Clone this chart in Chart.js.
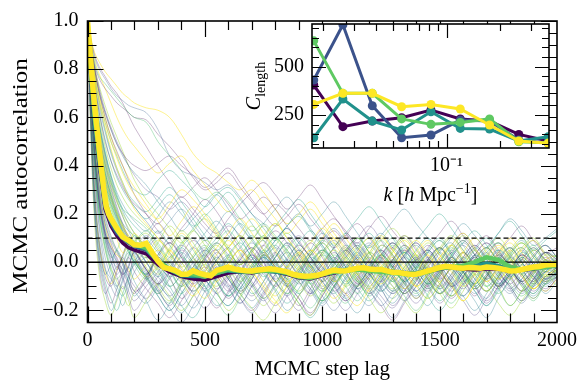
<!DOCTYPE html>
<html>
<head>
<meta charset="utf-8">
<script src="https://cdn.jsdelivr.net/npm/chart.js@4.4.1/dist/chart.umd.min.js"></script>
<style>
  body { margin: 0; background: #fff; }
  #wrap { position: relative; width: 583px; height: 382px; }
  #main { position: absolute; left: 0; top: 0; }
  #inset { position: absolute; left: 230px; top: 0; }
</style>
</head>
<body>
<div id="wrap">
  <canvas id="main" width="583" height="382"></canvas>
  <canvas id="inset" width="340" height="215"></canvas>
</div>
<script>
// ---- main panel: MCMC autocorrelation vs step lag ----
const thinLags = [0,15,30,50,75,100,125,150,175,200,250,300,350,400,450,500,550,600,650,700,750,800,850,900,950,1000,1050,1100,1150,1200,1250,1300,1350,1400,1450,1500,1550,1600,1650,1700,1750,1800,1850,1900,1950,2000];

// individual chains (thin lines)
const chains = [
  [1,.6,.3,.08,-.06,-.1,-.04,.02,-.05,-.12,-.08,.02,-.06,-.15,-.09,.01,.05,-.04,-.12,-.07,.03,-.02,-.1,-.18,-.11,-.03,.04,-.02,-.09,-.05,.02,-.06,-.13,-.08,.01,.06,-.01,-.07,-.14,-.06,.03,-.02,-.09,-.04,.02,-.03],
  [1,.72,.48,.28,.12,.04,-.03,.02,.08,.03,-.05,-.12,-.04,.06,.1,.02,-.08,-.14,-.06,.04,.09,.01,-.07,-.03,.05,.12,.06,-.04,-.1,-.02,.07,.03,-.06,-.12,-.05,.04,.08,0,-.09,-.15,-.07,.02,.06,-.01,-.08,-.03],
  [1,.82,.66,.5,.36,.26,.2,.14,.08,.05,-.02,-.1,-.16,-.08,.01,-.04,-.12,-.2,-.14,-.05,.03,-.02,-.09,-.17,-.22,-.13,-.04,.02,-.05,-.11,-.06,.04,.1,.03,-.06,-.13,-.09,-.02,.05,-.03,-.1,-.18,-.12,-.04,.01,-.05],
  [1,.9,.81,.72,.63,.56,.5,.45,.4,.36,.3,.27,.22,.25,.2,.14,.1,.15,.11,.04,-.03,.02,.08,.03,-.05,-.11,-.06,.02,.07,.01,-.07,-.13,-.08,0,.05,-.02,-.1,-.06,.03,.08,.02,-.05,-.12,-.07,.01,-.02],
  [1,.68,.42,.2,.06,-.04,-.1,-.14,-.08,0,.06,-.02,-.1,-.18,-.23,-.15,-.06,.01,-.05,-.13,-.08,.02,.07,-.01,-.09,-.16,-.1,-.02,.04,-.04,-.12,-.07,0,-.06,-.14,-.2,-.13,-.04,.03,-.02,-.09,-.05,.04,0,-.07,-.04],
  [1,.8,.6,.42,.3,.2,.1,.04,.07,.12,.05,-.03,.04,.12,.06,-.02,-.08,-.01,.05,-.03,-.11,-.17,-.1,-.02,.05,0,-.08,-.04,.04,.1,.03,-.05,-.11,-.05,.03,-.03,-.09,-.16,-.09,-.01,.06,.01,-.06,-.11,-.05,0],
  [1,.92,.85,.8,.76,.72,.69,.67,.65,.64,.62,.55,.44,.38,.36,.33,.3,.32,.27,.2,.16,.1,.14,.08,.02,-.04,.01,.06,0,-.07,-.12,-.06,.02,.07,.01,-.06,-.1,-.04,.03,-.02,-.08,-.13,-.07,0,.04,-.01],
  [1,.9,.83,.77,.74,.71,.68,.65,.62,.6,.58,.5,.44,.38,.3,.26,.29,.25,.18,.13,.16,.11,.05,0,.04,.09,.05,-.02,-.08,-.03,.05,.1,.04,-.03,-.09,-.04,.02,-.04,-.1,-.05,.02,.06,0,-.06,-.02,.03],
  [1,.7,.44,.24,.12,.06,.02,-.04,-.09,-.13,-.06,.03,.08,.02,-.06,-.12,-.19,-.12,-.04,.03,-.03,-.1,-.05,.02,.08,.02,-.06,-.13,-.07,.01,.05,-.01,-.08,-.15,-.09,-.02,.04,.09,.03,-.04,-.1,-.04,.03,-.01,-.07,-.02],
  [1,.55,.22,0,-.12,-.2,-.15,-.07,-.02,-.08,-.16,-.24,-.17,-.09,-.03,-.1,-.18,-.13,-.05,.02,-.04,-.12,-.2,-.14,-.06,0,-.07,-.15,-.21,-.13,-.05,.01,-.06,-.12,-.18,-.1,-.03,-.09,-.16,-.23,-.15,-.07,-.01,-.06,-.13,-.08],
  [1,.84,.7,.55,.42,.32,.25,.2,.16,.12,.05,-.02,.06,.13,.08,0,-.06,.02,.09,.15,.09,.01,-.06,-.12,-.05,.03,.08,.02,-.05,-.1,-.03,.05,.11,.06,-.02,-.08,-.14,-.07,.01,.06,0,-.06,-.12,-.05,.03,0],
  [1,.74,.5,.3,.16,.08,.01,-.05,-.02,.04,-.03,-.11,-.18,-.1,-.02,.03,-.05,-.12,-.06,.01,.07,0,-.08,-.15,-.22,-.14,-.06,0,-.05,-.13,-.08,.01,.05,-.03,-.1,-.17,-.11,-.04,.02,-.03,-.1,-.06,.01,-.05,-.12,-.06],
  [1,.85,.72,.58,.46,.36,.28,.22,.18,.15,.1,.04,-.03,-.1,-.04,.04,.1,.16,.1,.02,-.04,.02,.08,.02,-.06,-.12,-.07,0,.06,.12,.05,-.02,-.08,-.03,.05,.1,.04,-.03,-.09,-.02,.05,.01,-.05,.02,.07,.02],
  [1,.88,.78,.68,.58,.5,.43,.37,.32,.28,.22,.18,.24,.3,.26,.2,.13,.07,.12,.18,.12,.05,-.02,.03,.08,.14,.08,.01,-.05,0,.07,.03,-.04,-.1,-.05,.02,.07,.12,.06,-.01,-.07,-.02,.05,.09,.03,-.02],
  [1,.66,.38,.16,.02,-.06,-.1,-.05,.02,.07,0,-.08,-.14,-.08,0,.05,-.02,-.1,-.17,-.1,-.03,.03,-.03,-.09,-.04,.04,.09,.03,-.04,-.11,-.18,-.12,-.04,.02,-.04,-.11,-.06,.02,.07,.01,-.06,-.12,-.07,-.01,.04,-.02],
  [1,.8,.62,.46,.33,.24,.17,.11,.06,.01,-.07,-.13,-.06,.02,-.03,-.1,-.16,-.22,-.15,-.07,0,-.05,-.13,-.08,0,.04,-.03,-.1,-.16,-.09,-.02,-.07,-.14,-.2,-.13,-.05,.01,-.04,-.11,-.06,.02,-.03,-.1,-.16,-.09,-.05],
  [1,.89,.8,.7,.6,.52,.46,.4,.34,.28,.2,.13,.08,.14,.2,.26,.21,.13,.06,.01,.07,.13,.08,0,-.06,-.01,.06,.11,.05,-.03,-.08,-.02,.05,0,-.07,-.13,-.07,.01,.06,.11,.05,-.02,-.08,-.03,.04,.01],
  [1,.58,.27,.06,-.05,-.01,.05,0,-.08,-.14,-.07,.02,-.04,-.12,-.19,-.12,-.03,.03,-.02,-.09,-.15,-.09,-.01,.05,-.01,-.08,-.13,-.06,.02,-.03,-.11,-.17,-.1,-.02,.04,-.02,-.09,-.14,-.07,0,.05,-.01,-.08,-.13,-.06,-.02],
  [1,.83,.67,.52,.39,.29,.21,.15,.11,.09,.12,.06,-.01,-.07,-.02,.05,.11,.05,-.03,-.09,-.15,-.09,-.02,.04,.09,.03,-.04,-.1,-.05,.03,.09,.14,.08,.01,-.05,0,.07,.02,-.05,-.12,-.06,.02,.06,0,-.06,-.03],
  [1,.7,.46,.26,.12,.03,-.02,.03,.09,.05,-.03,-.09,-.03,.05,0,-.07,-.13,-.07,.01,.06,0,-.08,-.14,-.2,-.13,-.05,.02,-.04,-.11,-.06,.01,.06,0,-.07,-.12,-.06,.02,-.03,-.1,-.17,-.1,-.03,.03,-.02,-.08,-.04],
  [1,.81,.64,.49,.37,.27,.19,.12,.05,0,-.05,.03,.1,.04,-.04,-.1,-.04,.03,.08,.02,-.05,-.11,-.17,-.11,-.03,.03,-.02,-.09,-.04,.04,0,-.07,-.13,-.07,0,.06,0,-.06,-.12,-.18,-.11,-.04,.02,-.03,-.09,-.05],
  [1,.87,.76,.66,.56,.47,.39,.33,.27,.22,.16,.1,.05,0,-.06,-.01,.06,.12,.18,.12,.05,-.02,-.08,-.03,.04,.1,.16,.1,.03,-.04,-.09,-.03,.04,.09,.03,-.04,-.1,-.16,-.09,-.02,.04,.1,.04,-.03,-.08,-.03],
  [1,.64,.36,.14,-.02,-.1,-.14,-.08,-.02,.04,-.04,-.12,-.19,-.25,-.18,-.09,-.02,-.07,-.15,-.21,-.14,-.06,0,-.06,-.13,-.08,0,.05,-.02,-.1,-.16,-.23,-.16,-.08,-.02,-.07,-.14,-.09,-.02,.04,-.03,-.11,-.17,-.1,-.04,-.07],
  [1,.82,.66,.52,.41,.33,.27,.22,.2,.18,.14,.08,.02,.08,.14,.2,.14,.06,-.01,.05,.11,.06,-.01,-.07,-.02,.05,0,-.07,-.13,-.07,.01,.07,.02,-.05,-.11,-.05,.03,.09,.03,-.04,-.1,-.05,.02,.07,.01,0],
  [1,.9,.82,.76,.72,.69,.66,.64,.62,.6,.59,.53,.48,.42,.35,.3,.33,.37,.31,.25,.2,.24,.2,.14,.09,.14,.18,.12,.06,0,-.05,.01,.07,.02,-.05,-.1,-.05,.02,.07,.02,-.04,-.09,-.03,.03,.07,.02],
  [1,.71,.47,.27,.13,.05,0,-.03,-.08,-.12,-.17,-.1,-.02,.04,-.01,-.07,-.13,-.18,-.11,-.03,.02,-.03,-.1,-.06,.02,-.02,-.09,-.15,-.09,-.02,.03,-.02,-.09,-.14,-.08,0,.05,0,-.07,-.12,-.06,.02,-.03,-.09,-.04,-.01],
  [1,.8,.61,.45,.32,.23,.16,.11,.08,.06,.02,.08,.15,.09,.02,-.05,-.1,-.04,.03,.09,.15,.1,.03,-.03,.03,.08,.02,-.05,-.1,-.04,.03,-.02,-.09,-.15,-.08,-.01,.05,.11,.05,-.02,-.07,-.01,.06,.1,.04,.02],
  [1,.52,.2,-.02,-.13,-.08,-.02,-.07,-.14,-.2,-.13,-.06,0,-.06,-.12,-.07,.01,.06,0,-.08,-.15,-.21,-.14,-.06,0,-.06,-.12,-.07,0,-.05,-.11,-.18,-.12,-.05,.01,-.04,-.1,-.16,-.22,-.15,-.08,-.01,-.06,-.12,-.07,-.05],
  [1,.88,.77,.67,.58,.5,.44,.38,.33,.3,.28,.34,.38,.34,.29,.23,.28,.31,.26,.2,.14,.09,.15,.19,.13,.06,0,.05,.1,.04,-.03,-.08,-.02,.05,.1,.04,-.02,-.08,-.03,.04,.08,.02,-.05,-.1,-.04,.01],
  [1,.73,.49,.29,.15,.07,.03,.01,-.03,-.07,-.01,.05,-.01,-.08,-.14,-.08,0,.06,.11,.05,-.02,-.08,-.02,.04,-.02,-.09,-.15,-.09,-.01,.04,-.01,-.07,-.02,.04,.09,.03,-.04,-.1,-.05,.02,.07,.02,-.05,-.11,-.06,-.02],
  [1,.84,.69,.55,.43,.33,.25,.19,.13,.08,0,-.06,-.12,-.18,-.11,-.04,.02,-.03,-.1,-.16,-.1,-.02,.04,-.01,-.08,-.14,-.2,-.13,-.06,0,-.05,-.12,-.07,.01,.05,-.01,-.08,-.14,-.08,-.01,.04,-.02,-.09,-.15,-.09,-.06],
  [1,.69,.43,.22,.09,.02,.05,.1,.05,-.01,-.07,-.02,.05,.11,.05,-.02,-.08,-.14,-.08,-.01,.05,.1,.04,-.03,-.09,-.04,.03,-.02,-.08,-.13,-.07,.01,.07,.01,-.06,-.11,-.05,.02,-.03,-.1,-.05,.03,.08,.02,-.04,0],
  [1,.83,.68,.53,.41,.31,.23,.16,.1,.05,-.03,-.09,-.04,.03,.09,.04,-.03,-.09,-.15,-.2,-.13,-.05,.01,.07,.02,-.05,-.1,-.16,-.1,-.03,.03,.08,.02,-.05,-.1,-.04,.02,-.04,-.11,-.06,.01,.06,0,-.06,-.11,-.07],
  [1,.89,.79,.7,.62,.55,.49,.44,.4,.37,.32,.25,.19,.13,.18,.23,.28,.22,.15,.09,.04,.09,.15,.2,.14,.07,.01,-.04,.01,.07,.12,.06,0,-.06,-.01,.05,.1,.05,-.02,-.07,-.02,.04,.09,.03,-.02,.02],
  [1,.67,.4,.19,.05,-.03,-.08,-.13,-.18,-.12,-.05,.02,-.03,-.1,-.05,.02,.07,.01,-.06,-.12,-.18,-.12,-.05,.01,-.04,-.11,-.17,-.1,-.03,.02,-.03,-.1,-.16,-.21,-.14,-.06,0,-.05,-.11,-.06,.01,-.04,-.1,-.15,-.09,-.06],
  [1,.81,.63,.47,.35,.26,.19,.14,.1,.06,.1,.16,.1,.03,-.03,.02,.08,.03,-.04,-.1,-.04,.04,.1,.05,-.02,-.08,-.03,.04,.1,.15,.09,.02,-.04,.01,.07,.01,-.06,-.11,-.05,.02,.08,.03,-.03,-.08,-.02,.01],
  [1,.57,.25,.03,-.08,-.15,-.2,-.13,-.06,0,-.06,-.14,-.2,-.13,-.06,-.01,-.07,-.14,-.09,-.02,.03,-.03,-.1,-.17,-.23,-.16,-.08,-.02,-.07,-.14,-.08,-.01,.04,-.02,-.09,-.16,-.1,-.03,.02,-.04,-.11,-.18,-.12,-.05,0,-.04],
  [1,.91,.84,.78,.72,.66,.6,.55,.51,.48,.42,.37,.41,.44,.38,.32,.26,.21,.26,.3,.24,.18,.12,.17,.22,.16,.1,.04,-.01,.04,.1,.05,-.02,-.07,-.02,.05,.1,.04,-.03,-.08,-.03,.04,.08,.02,-.04,0],
  [1,.72,.47,.27,.14,.06,0,-.05,-.01,.05,.11,.05,-.02,-.08,-.02,.05,0,-.07,-.13,-.07,0,.06,.01,-.06,-.12,-.18,-.11,-.03,.03,.08,.02,-.05,-.11,-.05,.02,-.03,-.1,-.06,.01,.06,0,-.07,-.13,-.07,-.01,-.03],
  [1,.79,.6,.44,.31,.22,.15,.09,.04,0,-.06,-.12,-.17,-.1,-.03,.03,.08,.02,-.05,-.01,.05,0,-.07,-.13,-.19,-.12,-.04,.02,.07,.01,-.06,-.12,-.06,.01,-.04,-.11,-.17,-.1,-.03,.03,-.02,-.09,-.14,-.08,-.02,-.04],
  [1,.86,.74,.62,.5,.42,.36,.31,.27,.24,.2,.16,.22,.27,.22,.16,.12,.18,.24,.29,.33,.28,.22,.27,.32,.26,.19,.13,.08,.14,.19,.13,.07,.01,.06,.12,.17,.11,.05,-.01,.04,.1,.15,.09,.04,.06],
  [1,.84,.7,.57,.45,.36,.29,.24,.2,.17,.13,.19,.25,.2,.14,.09,.15,.21,.16,.1,.16,.22,.27,.21,.15,.2,.25,.19,.12,.06,.11,.17,.22,.16,.1,.05,.1,.16,.11,.06,.12,.18,.13,.07,.1,.14],
  [1,.86,.73,.6,.48,.39,.32,.27,.23,.2,.15,.1,.04,-.02,.03,.09,.05,-.02,-.08,-.03,.04,.1,.05,-.02,-.07,-.12,-.06,.01,.06,0,-.06,-.11,-.05,.02,.08,.03,-.03,-.09,-.04,.03,.08,.02,-.04,-.09,-.03,.01],
  [1,.7,.45,.25,.1,.01,-.06,-.11,-.06,.01,-.06,-.13,-.07,0,.06,.01,-.06,-.11,-.17,-.1,-.02,.04,-.02,-.08,-.13,-.07,-.01,.05,-.01,-.08,-.14,-.19,-.12,-.05,.01,-.05,-.12,-.06,.01,.06,0,-.06,-.12,-.07,-.02,-.05],
  [1,.88,.77,.66,.55,.46,.39,.33,.28,.25,.21,.26,.31,.25,.18,.11,.05,.1,.16,.1,.03,-.03,.02,.08,.13,.07,0,-.06,-.11,-.05,.02,.08,.03,-.03,-.09,-.04,.03,.08,.13,.07,0,-.06,-.01,.05,0,-.03],
  [1,.6,.29,.07,-.04,-.09,-.03,.03,.08,.02,-.06,-.01,.05,-.02,-.09,-.15,-.08,-.01,.05,-.01,-.08,-.14,-.07,0,.05,-.01,-.07,-.13,-.18,-.11,-.04,.02,-.04,-.1,-.05,.02,.07,.01,-.06,-.12,-.06,.01,-.05,-.11,-.06,-.03],
  [1,.82,.65,.5,.37,.28,.2,.13,.07,.02,-.05,.02,.08,.02,-.05,-.11,-.06,.02,-.03,-.1,-.16,-.1,-.03,.03,-.03,-.1,-.05,.03,.08,.02,-.05,-.1,-.16,-.1,-.02,.04,-.01,-.07,-.13,-.07,0,.06,0,-.07,-.03,-.01],
  [1,.74,.51,.32,.18,.1,.05,.01,.06,.11,.06,-.01,-.07,-.13,-.06,.02,.08,.13,.07,0,-.06,-.01,.05,.1,.04,-.03,-.08,-.02,.05,.1,.04,-.03,-.08,-.13,-.07,0,.06,.01,-.05,-.1,-.04,.03,.08,.03,-.03,0],
  [1,.9,.8,.71,.62,.55,.49,.45,.42,.4,.38,.41,.44,.4,.36,.31,.35,.39,.33,.26,.2,.15,.19,.24,.18,.12,.06,.11,.16,.1,.04,-.02,.03,.08,.02,-.04,-.09,-.03,.03,.08,.03,-.03,-.08,-.02,.04,.01],
  [1,.85,.71,.57,.45,.35,.27,.21,.16,.12,.06,0,-.06,-.01,.06,.12,.17,.11,.04,-.02,.03,.09,.14,.08,.02,-.04,.01,.07,.02,-.05,-.1,-.15,-.09,-.02,.04,.09,.03,-.04,-.1,-.05,.02,-.03,-.09,-.14,-.08,-.04],
  [1,.5,.17,-.05,-.16,-.22,-.16,-.1,-.16,-.23,-.16,-.09,-.14,-.2,-.14,-.07,-.01,-.06,-.13,-.19,-.24,-.17,-.1,-.04,-.09,-.16,-.1,-.03,-.08,-.15,-.21,-.15,-.08,-.02,-.07,-.13,-.19,-.12,-.05,-.1,-.17,-.22,-.16,-.09,-.05,-.1],
  [1,.71,.46,.25,.11,.03,-.01,-.06,-.12,-.16,-.1,-.04,.02,.07,.02,-.05,-.11,-.06,.01,-.05,-.12,-.18,-.12,-.05,.01,-.04,-.1,-.16,-.1,-.03,.03,.08,.02,-.05,-.11,-.05,.01,-.04,-.1,-.16,-.1,-.03,.03,-.01,-.07,-.04],
  [1,.83,.66,.51,.38,.28,.21,.16,.13,.11,.07,.13,.07,0,-.06,-.12,-.07,0,.06,.11,.05,-.01,-.07,-.13,-.07,0,.06,.12,.06,-.01,-.06,0,.06,0,-.07,-.13,-.08,-.01,.05,.1,.04,-.02,-.08,-.03,.04,.02],
  [1,.89,.79,.69,.6,.52,.45,.4,.35,.31,.24,.17,.11,.17,.23,.18,.11,.05,-.01,.04,.1,.16,.1,.04,-.02,.04,.1,.05,-.01,-.07,-.02,.04,.09,.03,-.03,-.08,-.02,.04,.1,.04,-.02,-.07,-.01,.05,.01,0],
  [1,.69,.44,.23,.09,0,-.05,-.01,.04,0,-.07,-.14,-.2,-.13,-.05,.01,-.04,-.1,-.04,.03,-.02,-.08,-.14,-.08,-.01,.05,0,-.07,-.13,-.18,-.11,-.04,.02,-.03,-.09,-.03,.04,-.01,-.07,-.12,-.06,0,.05,-.01,-.06,-.03],
  [1,.8,.62,.46,.34,.25,.18,.12,.09,.07,.03,-.04,-.1,-.05,.02,.07,.01,-.06,-.12,-.06,.01,.07,.12,.06,-.01,-.06,-.12,-.17,-.1,-.03,.03,-.02,-.08,-.03,.04,.09,.03,-.04,-.09,-.03,.03,-.02,-.08,-.13,-.07,-.03],
  [1,.92,.86,.81,.77,.73,.7,.66,.61,.56,.48,.4,.33,.27,.31,.35,.3,.24,.18,.22,.27,.22,.15,.09,.03,.08,.13,.07,.01,-.05,0,.06,.11,.05,-.01,-.07,-.02,.04,-.01,-.07,-.11,-.05,.01,.06,.01,-.02],
  [1,.62,.31,.09,-.03,-.07,-.12,-.18,-.11,-.04,.02,-.03,-.1,-.05,.02,.06,0,-.07,-.13,-.19,-.12,-.05,.01,-.04,-.11,-.17,-.1,-.03,.03,-.02,-.08,-.13,-.07,-.01,.05,-.01,-.08,-.14,-.2,-.13,-.06,0,-.05,-.11,-.06,-.02],
  [1,.84,.7,.56,.44,.34,.26,.19,.14,.1,.02,-.05,.01,.07,.13,.07,0,-.06,-.01,.05,.1,.04,-.03,-.08,-.14,-.08,-.01,.05,.1,.04,-.02,-.08,-.03,.03,-.03,-.09,-.14,-.08,-.01,.05,.1,.04,-.03,-.08,-.02,.01],
  [1,.73,.49,.3,.16,.09,.04,-.01,-.06,-.1,-.15,-.09,-.02,-.07,-.13,-.19,-.12,-.05,.01,.06,0,-.07,-.02,.05,-.01,-.08,-.14,-.2,-.13,-.06,0,-.05,-.11,-.17,-.1,-.03,.02,.07,.01,-.05,-.1,-.05,.02,-.03,-.09,-.06],
  [1,.86,.74,.62,.51,.42,.35,.3,.26,.23,.18,.23,.28,.22,.15,.19,.24,.29,.23,.16,.1,.15,.21,.26,.2,.13,.07,.12,.18,.23,.17,.1,.04,.09,.15,.2,.14,.07,.01,.06,.12,.17,.11,.05,.09,.13],
  [1,.81,.63,.48,.36,.27,.2,.15,.11,.08,.04,.09,.03,-.04,-.1,-.04,.03,.09,.03,-.04,-.1,-.16,-.21,-.14,-.07,-.01,.05,0,-.07,-.12,-.06,.01,-.04,-.1,-.15,-.09,-.02,.04,-.02,-.08,-.02,.05,-.01,-.07,-.12,-.07],
  [1,.87,.75,.64,.54,.45,.38,.32,.27,.23,.17,.12,.17,.22,.16,.09,.03,-.03,.02,.08,.02,-.05,-.1,-.04,.03,.09,.14,.08,.01,-.05,-.1,-.04,.03,.08,.02,-.04,.02,.08,.03,-.04,-.09,-.03,.04,.09,.03,0],
  [1,.68,.41,.2,.07,-.02,-.07,-.03,.03,.08,.13,.07,0,-.06,-.12,-.06,.01,.06,.11,.05,-.02,-.08,-.13,-.07,0,.05,-.01,-.08,-.03,.04,.09,.03,-.03,-.09,-.15,-.09,-.02,.04,-.02,-.08,-.13,-.07,.01,.06,.01,-.02],
  [1,.56,.24,.02,-.1,-.17,-.11,-.04,.02,-.04,-.11,-.17,-.23,-.16,-.08,-.02,-.08,-.15,-.09,-.02,.04,-.02,-.09,-.15,-.21,-.14,-.07,-.01,-.06,-.12,-.18,-.24,-.17,-.1,-.04,-.09,-.15,-.09,-.03,.02,-.04,-.1,-.16,-.1,-.04,-.06],
  [1,.83,.67,.52,.4,.3,.22,.15,.09,.04,-.03,-.09,-.15,-.21,-.14,-.06,0,-.05,-.11,-.05,.02,.07,.01,-.05,-.11,-.16,-.1,-.03,.02,.07,.01,-.06,-.12,-.06,.01,.06,0,-.06,-.12,-.18,-.12,-.05,.01,-.04,-.1,-.06],
  [1,.9,.81,.73,.65,.58,.52,.46,.4,.34,.26,.2,.14,.08,.13,.18,.12,.05,-.01,.05,.11,.16,.1,.03,-.02,-.08,-.03,.04,.1,.04,-.03,-.08,-.13,-.07,0,.06,.11,.05,-.01,-.07,-.02,.05,.1,.04,-.02,.01],
  [1,.75,.52,.33,.19,.11,.05,0,-.04,-.01,.05,.1,.04,-.03,-.09,-.03,.04,-.01,-.08,-.14,-.08,0,.06,.11,.05,-.02,-.08,-.14,-.08,-.01,.05,0,-.06,-.12,-.06,.01,.07,.12,.06,-.01,-.06,-.11,-.05,.02,.07,.02],
  [1,.8,.61,.45,.33,.24,.18,.13,.09,.06,0,-.06,0,.06,0,-.07,-.13,-.18,-.11,-.04,.02,-.03,-.09,-.04,.03,.08,.02,-.05,-.11,-.16,-.1,-.02,.04,-.01,-.08,-.13,-.07,0,.06,.01,-.05,-.1,-.16,-.09,-.03,-.05],
  [1,.93,.87,.83,.79,.76,.73,.7,.68,.66,.64,.63,.6,.53,.45,.4,.37,.33,.3,.34,.29,.22,.16,.2,.25,.19,.12,.06,.01,.06,.11,.05,-.01,-.06,0,.06,.02,-.04,-.09,-.03,.03,.08,.02,-.04,.01,.03]
];

// group means (thick lines), purple / blue / teal / green on thinLags
const meanPurple = [1,.76,.57,.4,.22,.15,.11,.08,.06,.05,.035,-.01,-.04,-.06,-.07,-.075,-.06,-.045,-.04,-.045,-.035,-.04,-.05,-.065,-.07,-.055,-.045,-.035,-.03,-.03,-.035,-.045,-.045,-.05,-.04,-.028,-.022,-.028,-.032,-.028,-.028,-.038,-.033,-.028,-.018,-.013];
const meanBlue = [1,.77,.58,.41,.23,.16,.12,.1,.08,.065,.05,.002,-.032,-.048,-.055,-.06,-.047,-.033,-.038,-.042,-.033,-.037,-.047,-.058,-.062,-.052,-.043,-.033,-.028,-.028,-.033,-.038,-.043,-.047,-.038,-.024,-.019,-.023,-.028,-.023,-.019,-.028,-.028,-.023,-.018,-.013];
const meanTeal = [1,.78,.59,.42,.24,.17,.13,.1,.085,.07,.055,.005,-.03,-.055,-.058,-.058,-.045,-.035,-.04,-.04,-.035,-.04,-.045,-.058,-.06,-.05,-.04,-.035,-.03,-.03,-.035,-.04,-.045,-.045,-.035,-.025,-.02,-.02,-.015,-.005,-.015,-.03,-.03,-.025,-.02,-.015];
const meanGreen = [1,.79,.61,.44,.25,.18,.14,.105,.09,.075,.06,.005,-.03,-.05,-.05,-.06,-.045,-.03,-.035,-.04,-.035,-.035,-.045,-.06,-.065,-.05,-.04,-.035,-.03,-.035,-.04,-.045,-.05,-.05,-.04,-.025,-.02,-.015,0,.02,.01,-.02,-.03,-.025,-.02,-.012];

// yellow mean on a finer lag grid
const meanLags = [0,10,20,30,40,50,60,70,80,90,100,125,150,175,200,225,250,275,300,325,350,375,400,425,450,475,500,525,550,575,600,625,650,675,700,725,750,775,800,825,850,875,900,925,950,975,1000,1025,1050,1075,1100,1125,1150,1175,1200,1225,1250,1275,1300,1325,1350,1375,1400,1425,1450,1475,1500,1525,1550,1575,1600,1625,1650,1675,1700,1725,1750,1775,1800,1825,1850,1875,1900,1925,1950,1975,2000];
const meanYellow = [1,.88,.76,.65,.56,.47,.38,.3,.23,.2,.18,.14,.105,.09,.072,.07,.078,.04,.005,-.022,-.028,-.035,-.05,-.05,-.036,-.045,-.052,-.056,-.034,-.028,-.02,-.028,-.032,-.035,-.036,-.032,-.03,-.027,-.03,-.035,-.04,-.05,-.055,-.058,-.057,-.055,-.048,-.04,-.033,-.036,-.035,-.03,-.025,-.023,-.028,-.03,-.03,-.036,-.042,-.043,-.047,-.05,-.05,-.043,-.036,-.03,-.022,-.017,-.02,-.023,-.025,-.022,-.023,-.025,-.02,-.022,-.025,-.03,-.036,-.035,-.03,-.025,-.02,-.018,-.012,-.01,-.01];

const refLevels = [0, 0.1];

const xMajor = [0, 500, 1000, 1500, 2000];
const xMinor = [100,200,300,400,600,700,800,900,1100,1200,1300,1400,1600,1700,1800,1900];
const yMajor = [-0.2, 0, 0.2, 0.4, 0.6, 0.8, 1.0];
const yMinor = [-0.25,-0.15,-0.1,-0.05,0.05,0.1,0.15,0.25,0.3,0.35,0.45,0.5,0.55,0.65,0.7,0.75,0.85,0.9,0.95];

// ---- inset: C_length vs k ----
const kBins = [0.0178, 0.026, 0.0381, 0.0558, 0.0817, 0.1196, 0.175, 0.256, 0.375];
const cPurple = [405, 190, 219, 236, 276, 230, 219, 150, 116];
const cBlue = [431, 716, 298, 133, 147, 224, 219, 121, 104];
const cTeal = [133, 333, 219, 173, 267, 181, 178, 116, 138];
const cGreen = [633, 362, 362, 230, 202, 212, 230, 112, 107];
const cYellow = [305, 362, 362, 293, 305, 281, 199, 116, 104];
const kMajor = [0.1];
const kMinor = [0.02,0.03,0.04,0.05,0.06,0.07,0.08,0.09,0.2,0.3];
const cMajor = [250, 500];
const cMinor = [100,150,200,300,350,400,450,550,600,650,700];

const viridis = ['#440154', '#3b528b', '#21918c', '#5ec962', '#fde725'];
const thinColors = ['rgba(68,1,84,0.28)', 'rgba(70,50,126,0.3)', 'rgba(54,92,141,0.32)', 'rgba(39,127,142,0.35)',
  'rgba(31,161,135,0.38)', 'rgba(74,193,109,0.4)', 'rgba(160,218,57,0.45)', 'rgba(253,231,37,0.5)'];

const serif = '"Liberation Serif", "Times New Roman", serif';
const font = { family: serif, size: 20 };

const pts = (xs, ys) => xs.map((x, i) => ({ x: x, y: ys[i] }));

// inward ticks on all four sides + frame, like matplotlib
const frameTicks = {
  id: "frameTicks",
  afterDatasetsDraw(chart, args, o) {
    const { ctx, chartArea: a } = chart;
    const xs = chart.scales.x, ys = chart.scales.y;
    ctx.save();
    ctx.strokeStyle = "#000";
    ctx.lineWidth = 1.2;
    ctx.beginPath();
    [[o.xMajor, o.major], [o.xMinor, o.minor]].forEach(([vals, len]) => {
      vals.forEach((v) => {
        const p = Math.round(xs.getPixelForValue(v)) + 0.5;
        if (p < a.left || p > a.right) return;
        ctx.moveTo(p, a.bottom); ctx.lineTo(p, a.bottom - len);
        ctx.moveTo(p, a.top); ctx.lineTo(p, a.top + len);
      });
    });
    [[o.yMajor, o.major], [o.yMinor, o.minor]].forEach(([vals, len]) => {
      vals.forEach((v) => {
        const p = Math.round(ys.getPixelForValue(v)) + 0.5;
        if (p < a.top || p > a.bottom) return;
        ctx.moveTo(a.left, p); ctx.lineTo(a.left + len, p);
        ctx.moveTo(a.right, p); ctx.lineTo(a.right - len, p);
      });
    });
    ctx.stroke();
    ctx.lineWidth = 1.6;
    ctx.strokeRect(a.left, a.top, a.right - a.left, a.bottom - a.top);
    ctx.restore();
  },
};

// y title drawn a bit elongated along its length, as in the original figure
const longYTitle = {
  id: "longYTitle",
  afterDraw(chart, args, o) {
    const ctx = chart.ctx;
    ctx.save();
    ctx.translate(o.x, o.y);
    ctx.rotate(-Math.PI / 2);
    ctx.scale(o.stretch, 1);
    ctx.font = "20px " + serif;
    ctx.fillStyle = "#000";
    ctx.textAlign = "center";
    ctx.textBaseline = "middle";
    ctx.fillText(chart.options.scales.y.title.text, 0, 0);
    ctx.restore();
  },
};

const thinSets = chains.map((c, i) => ({
  data: pts(thinLags, c),
  borderColor: thinColors[(i * 3) % thinColors.length],
  borderWidth: 1,
  tension: 0.35,
  order: 20 + i,
}));

const meanSets = [
  { data: pts(meanLags, meanYellow), borderColor: viridis[4], borderWidth: 5.5, order: 0 },
  { data: pts(thinLags, meanGreen), borderColor: viridis[3], borderWidth: 4.5, order: 1 },
  { data: pts(thinLags, meanTeal), borderColor: viridis[2], borderWidth: 4, order: 2 },
  { data: pts(thinLags, meanBlue), borderColor: viridis[1], borderWidth: 3.5, order: 3 },
  { data: pts(thinLags, meanPurple), borderColor: viridis[0], borderWidth: 3.5, order: 4 },
];

const refSets = refLevels.map((lv, i) => ({
  data: [{ x: 0, y: lv }, { x: 2000, y: lv }],
  borderColor: "#000",
  borderWidth: 1.2,
  borderDash: i === 0 ? [] : [5, 3],
  order: 10,
}));

new Chart(document.getElementById("main").getContext("2d"), {
  type: "line",
  data: { datasets: meanSets.concat(refSets, thinSets) },
  options: {
    responsive: false,
    animation: false,
    devicePixelRatio: 1,
    layout: { padding: { left: 0, top: 13.5, right: 23, bottom: 0 } },
    elements: { point: { radius: 0 } },
    datasets: { line: { clip: 0 } },
    plugins: {
      legend: { display: false },
      tooltip: { enabled: false },
      frameTicks: { xMajor, xMinor, yMajor, yMinor, major: 16, minor: 9 },
      longYTitle: { x: 22, y: 176, stretch: 1.25 },
    },
    scales: {
      x: {
        type: "linear", min: 0, max: 2000,
        afterBuildTicks: (s) => { s.ticks = xMajor.map((v) => ({ value: v })); },
        afterFit: (s) => { s.height = 59.5; },
        grid: { display: false, drawTicks: false },
        border: { display: false },
        ticks: { padding: 6, color: "#000", font, maxRotation: 0, autoSkip: false, callback: (v) => String(v) },
        title: { display: true, text: "MCMC step lag", color: "#000", font: { family: serif, size: 21 }, padding: { top: 0, bottom: 0 } },
      },
      y: {
        type: "linear", min: -0.25, max: 1.0,
        afterBuildTicks: (s) => { s.ticks = yMajor.map((v) => ({ value: v })); },
        afterFit: (s) => { s.width = 87.5; },
        grid: { display: false, drawTicks: false },
        border: { display: false },
        ticks: { padding: 9, color: "#000", font, autoSkip: false, callback: (v) => v.toFixed(1).replace("-", "\u2212") },
        title: { display: false, text: "MCMC autocorrelation" },
      },
    },
  },
  plugins: [frameTicks, longYTitle],
});

// ---- inset ----
function richText(ctx, parts, x, y) {
  const f = (p) => (p.i ? "italic " : "") + (p.s ? 14 : 20) + "px " + serif;
  let w = 0;
  parts.forEach((p) => { ctx.font = f(p); w += ctx.measureText(p.t).width; });
  let cx = x - w / 2;
  parts.forEach((p) => {
    ctx.font = f(p);
    ctx.fillText(p.t, cx, y + (p.dy || 0));
    cx += ctx.measureText(p.t).width;
  });
}

const insetDecor = {
  id: "insetDecor",
  beforeDatasetsDraw(chart) {
    const { ctx, chartArea: a } = chart;
    ctx.save();
    ctx.fillStyle = "#fff";
    ctx.fillRect(a.left, a.top, a.right - a.left, a.bottom - a.top);
    ctx.restore();
  },
  afterDraw(chart) {
    const { ctx, chartArea: a } = chart;
    ctx.save();
    ctx.fillStyle = "#000";
    ctx.textBaseline = "alphabetic";
    richText(ctx, [
      { t: "k", i: 1 }, { t: " [" }, { t: "h", i: 1 }, { t: " Mpc" }, { t: "\u22121", s: 1, dy: -8 }, { t: "]" },
    ], (a.left + a.right) / 2, 201);
    ctx.translate(30, (a.top + a.bottom) / 2);
    ctx.rotate(-Math.PI / 2);
    richText(ctx, [{ t: "C", i: 1 }, { t: "length", s: 1, dy: 5 }], 0, 0);
    ctx.restore();
  },
};

const insetSeries = [cPurple, cBlue, cTeal, cGreen, cYellow];

new Chart(document.getElementById("inset").getContext("2d"), {
  type: "line",
  data: {
    datasets: insetSeries.map((s, i) => ({
      data: pts(kBins, s),
      borderColor: viridis[i],
      backgroundColor: viridis[i],
      pointBackgroundColor: viridis[i],
      pointBorderWidth: 0,
      pointRadius: 4.5,
      borderWidth: 3,
      tension: 0,
      clip: 0,
      order: 4 - i,
    })),
  },
  options: {
    responsive: false,
    animation: false,
    devicePixelRatio: 1,
    layout: { padding: { left: 0, top: 24, right: 21, bottom: 0 } },
    plugins: {
      legend: { display: false },
      tooltip: { enabled: false },
      frameTicks: { xMajor: kMajor, xMinor: kMinor, yMajor: cMajor, yMinor: cMinor, major: 14, minor: 7 },
    },
    scales: {
      x: {
        type: "logarithmic", min: 0.0174, max: 0.379,
        afterBuildTicks: (s) => { s.ticks = kMajor.map((v) => ({ value: v })); },
        afterFit: (s) => { s.height = 67; },
        grid: { display: false, drawTicks: false },
        border: { display: false },
        ticks: { padding: 6, color: "#000", font, maxRotation: 0, autoSkip: false, callback: () => "10\u207B\u00B9" },
      },
      y: {
        type: "linear", min: 80, max: 720,
        afterBuildTicks: (s) => { s.ticks = cMajor.map((v) => ({ value: v })); },
        afterFit: (s) => { s.width = 82; },
        grid: { display: false, drawTicks: false },
        border: { display: false },
        ticks: { padding: 8, color: "#000", font, autoSkip: false, callback: (v) => String(v) },
      },
    },
  },
  plugins: [insetDecor, frameTicks],
});
</script>
</body>
</html>
